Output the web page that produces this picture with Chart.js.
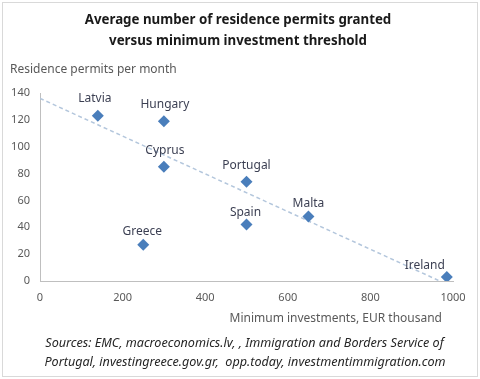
<!DOCTYPE html>
<html>
<head>
<meta charset="utf-8">
<script src="https://cdn.jsdelivr.net/npm/chart.js@4/dist/chart.umd.min.js"></script>
<style>
html,body{margin:0;padding:0;background:#fff;}
canvas{display:block;}
</style>
</head>
<body>
<canvas id="c" width="480" height="379"></canvas>
<script>
const countries = ["Latvia", "Hungary", "Cyprus", "Greece", "Portugal", "Spain", "Malta", "Ireland"];
const minInvestment = [140, 300, 300, 250, 500, 500, 650, 985];
const permitsPerMonth = [123, 119, 85, 27, 74, 42, 48, 3];
const trendX = [0, 968];
const trendY = [136, 0];
const xTicks = [0, 200, 400, 600, 800, 1000];
const yTicks = [0, 20, 40, 60, 80, 100, 120, 140];

const titleLines = ["Average number of residence permits granted", "versus minimum investment threshold"];
const yTitle = "Residence permits per month";
const xTitle = "Minimum investments, EUR thousand";
const sourceLines = ["Sources: EMC, macroeconomics.lv, , Immigration and Borders Service of", "Portugal, investingreece.gov.gr,  opp.today, investmentimmigration.com"];

const FONT = "'Noto Sans', 'Open Sans', sans-serif";

const labelOffsets = {
  Latvia: [-3, 17], Hungary: [1, 17], Cyprus: [1, 16], Greece: [-1, 13],
  Portugal: [0, 16], Spain: [-1, 12], Malta: [0, 13], Ireland: [-22, 11]
};

const textPlugin = {
  id: 'texts',
  beforeDraw(chart) {
    const ctx = chart.ctx;
    ctx.save();
    ctx.fillStyle = '#fff';
    ctx.fillRect(0, 0, chart.width, chart.height);
    ctx.strokeStyle = '#d9d9d9';
    ctx.lineWidth = 1;
    ctx.strokeRect(2.5, 2.5, 475, 374);
    ctx.restore();
  },
  afterDraw(chart) {
    const ctx = chart.ctx;
    ctx.save();
    ctx.textBaseline = 'middle';
    // title
    ctx.fillStyle = '#1a1a1a';
    ctx.font = "bold 13.3px " + FONT;
    ctx.textAlign = 'center';
    ctx.fillText(titleLines[0], 238, 20);
    ctx.fillText(titleLines[1], 238, 41);
    // y title
    ctx.fillStyle = '#595959';
    ctx.font = "12px " + FONT;
    ctx.textAlign = 'left';
    ctx.fillText(yTitle, 10, 70);
    // x title
    ctx.textAlign = 'right';
    ctx.fillText(xTitle, 442, 319);
    // sources
    ctx.fillStyle = '#262626';
    ctx.font = "italic 12.6px " + FONT;
    ctx.textAlign = 'center';
    ctx.fillText(sourceLines[0], 244.5, 343);
    ctx.fillText(sourceLines[1], 245, 362);
    ctx.restore();
  },
  afterDatasetsDraw(chart) {
    const ctx = chart.ctx;
    const meta = chart.getDatasetMeta(1);
    ctx.save();
    ctx.fillStyle = '#3b3f52';
    ctx.font = "12px " + FONT;
    ctx.textAlign = 'center';
    ctx.textBaseline = 'middle';
    meta.data.forEach((pt, i) => {
      const name = countries[i];
      const off = labelOffsets[name] || [0, 15];
      ctx.fillText(name, pt.x + off[0], pt.y - off[1]);
    });
    ctx.restore();
  }
};

new Chart(document.getElementById('c'), {
  type: 'scatter',
  data: {
    datasets: [
      {
        type: 'line',
        data: trendX.map((x, i) => ({x: x, y: trendY[i]})),
        borderColor: '#b3c6dc',
        borderWidth: 1.5,
        borderDash: [4, 3],
        pointRadius: 0,
        fill: false,
        order: 2
      },
      {
        data: minInvestment.map((x, i) => ({x: x, y: permitsPerMonth[i]})),
        backgroundColor: '#4a7ebb',
        borderWidth: 0,
        pointStyle: 'rectRot',
        pointRadius: 6,
        pointHoverRadius: 6,
        order: 1
      }
    ]
  },
  options: {
    responsive: false,
    animation: false,
    events: [],
    layout: { padding: { left: 0, right: 27, top: 93, bottom: 78 } },
    plugins: { legend: { display: false }, tooltip: { enabled: false }, title: { display: false } },
    scales: {
      x: {
        type: 'linear', min: 0, max: 1000,
        afterFit(s) { s.height = 20; },
        afterBuildTicks(s) { s.ticks = xTicks.map(v => ({value: v})); },
        grid: { display: false, drawTicks: false },
        border: { display: true, color: '#bfbfbf', width: 1 },
        ticks: { padding: 10, color: '#595959', font: { family: FONT, size: 11 }, maxRotation: 0, autoSkip: false, callback: v => String(v) }
      },
      y: {
        type: 'linear', min: 0, max: 140,
        afterFit(s) { s.width = 40; },
        afterBuildTicks(s) { s.ticks = yTicks.map(v => ({value: v})); },
        grid: { display: false, drawTicks: false },
        border: { display: true, color: '#bfbfbf', width: 1 },
        ticks: { padding: 10, color: '#595959', font: { family: FONT, size: 11 }, autoSkip: false, callback: v => String(v) }
      }
    }
  },
  plugins: [textPlugin]
});
</script>
</body>
</html>
